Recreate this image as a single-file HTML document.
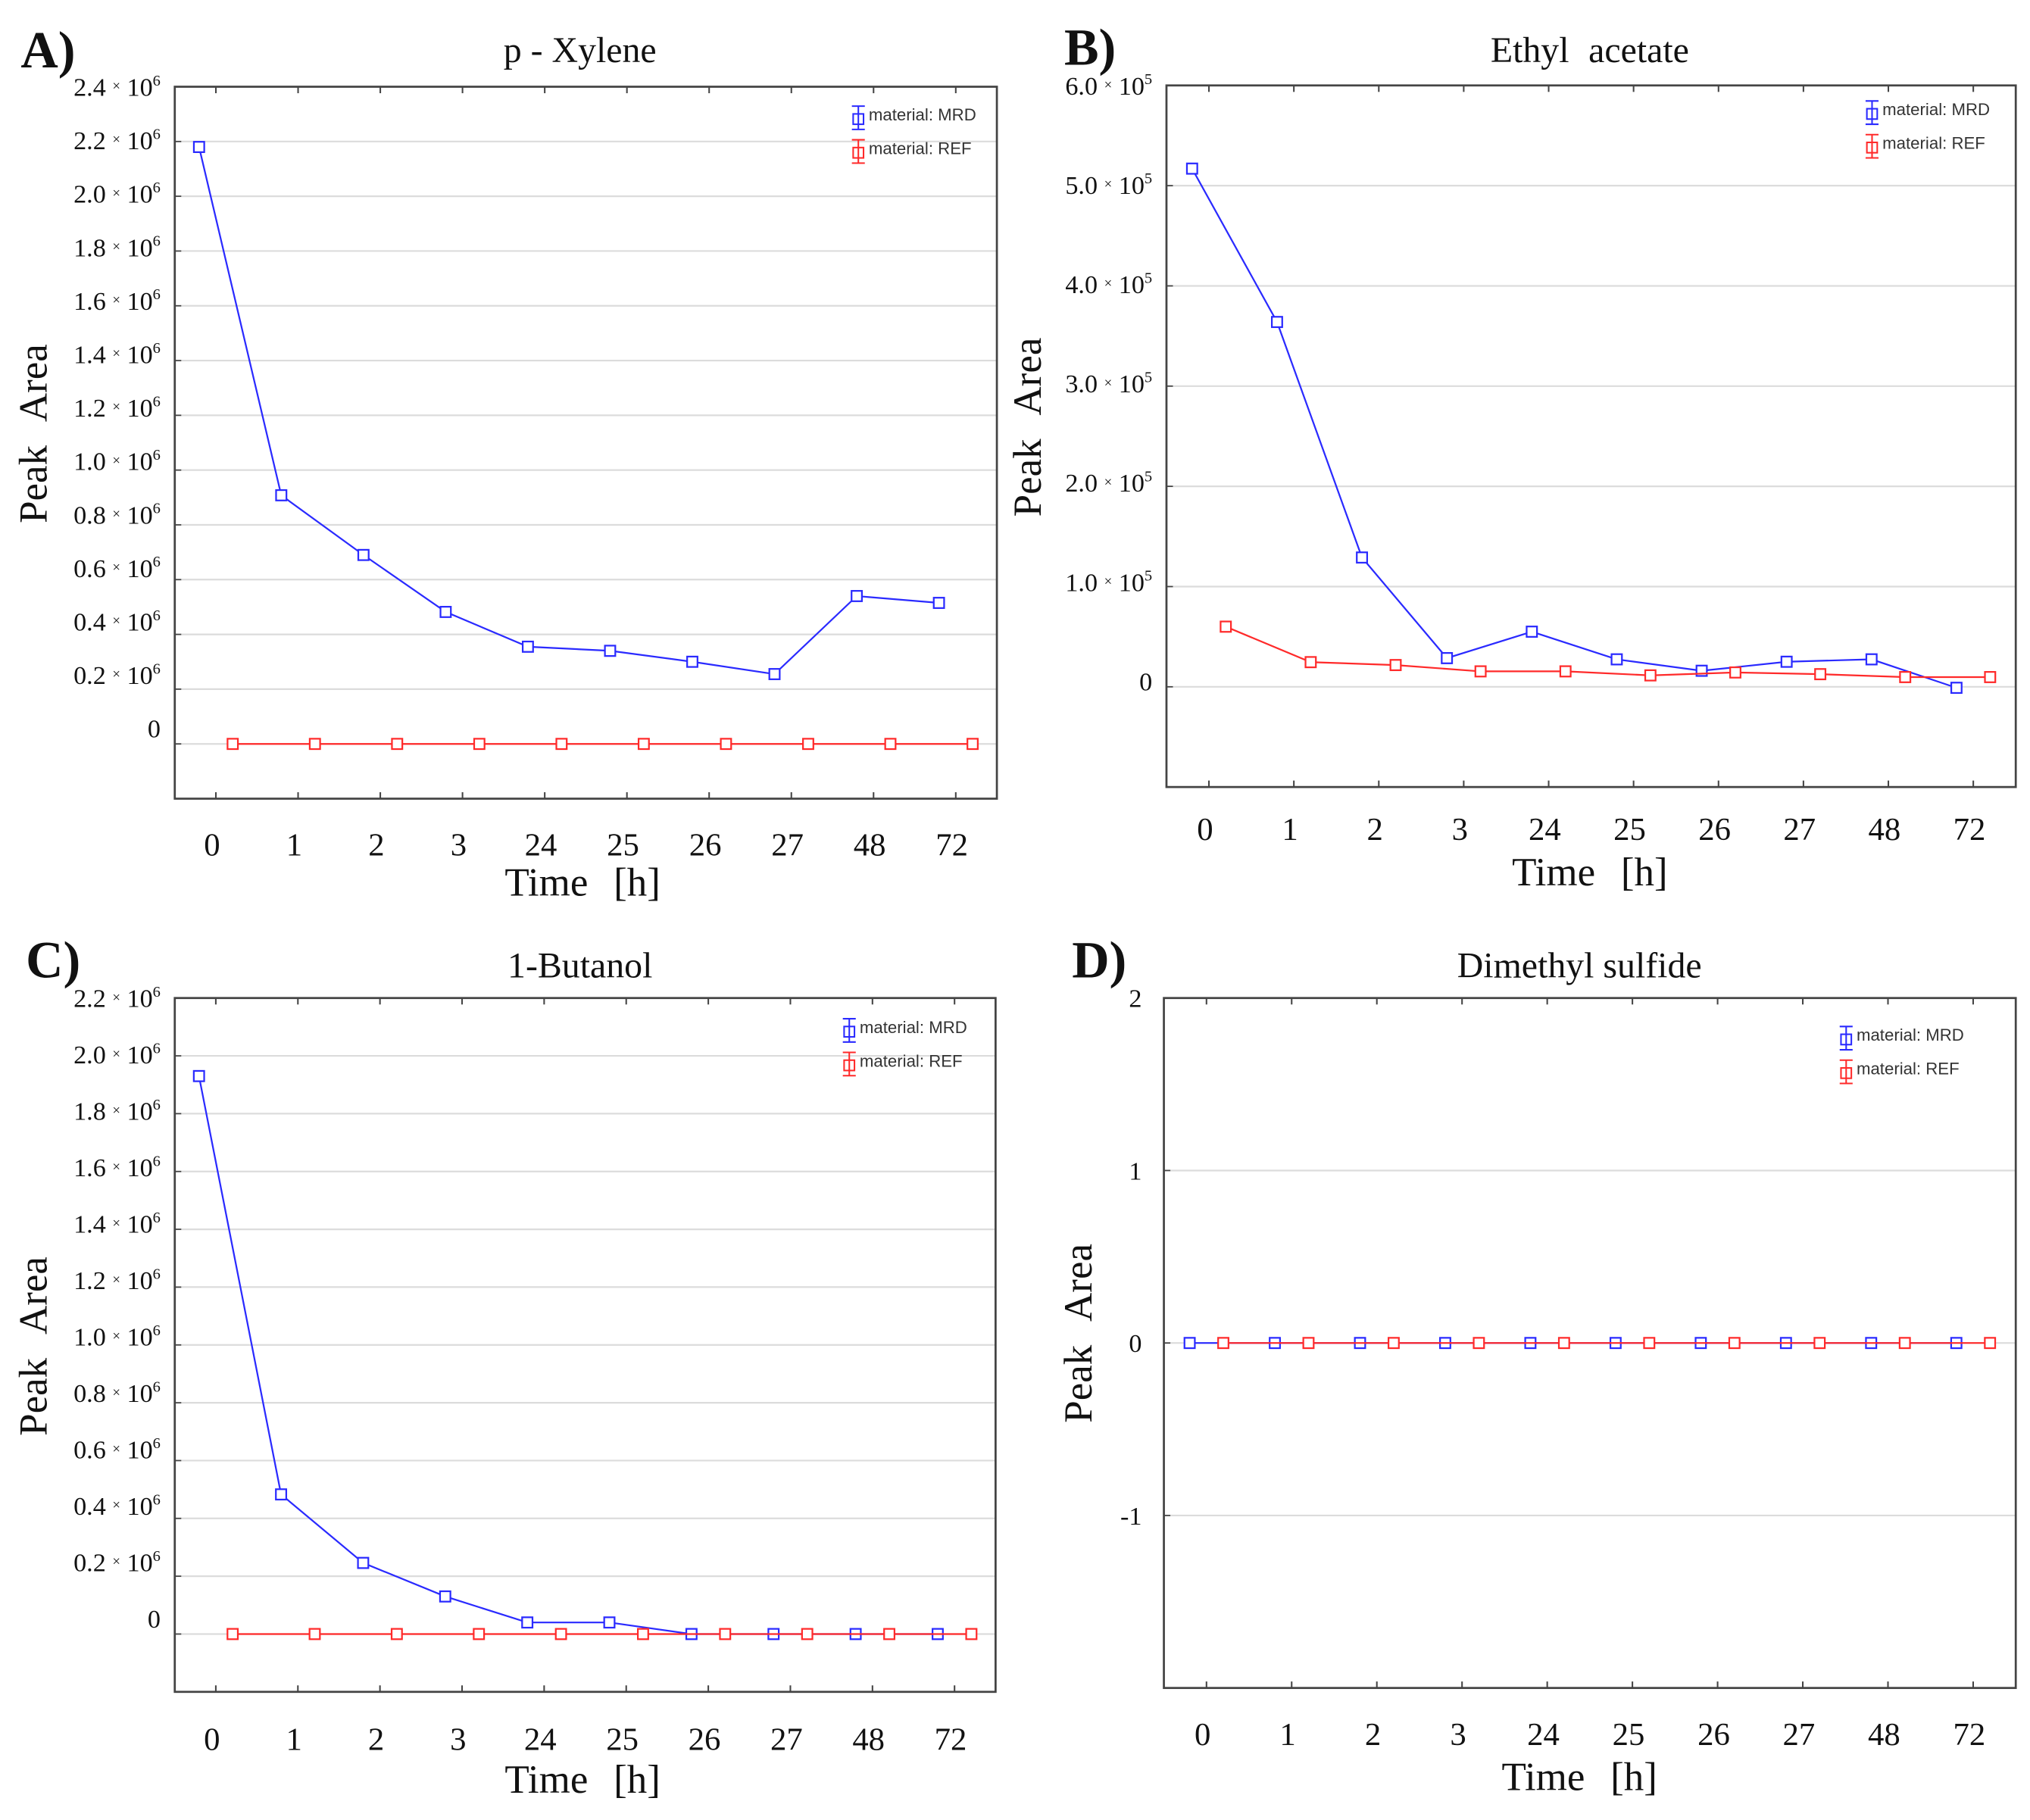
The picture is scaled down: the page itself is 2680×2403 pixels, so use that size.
<!DOCTYPE html>
<html><head><meta charset="utf-8"><style>
html,body{margin:0;padding:0;background:#fff}
svg{display:block}
text{font-family:"Liberation Serif",serif;fill:#111}
.leg{font-family:"Liberation Sans",sans-serif;font-size:13px;fill:#333}
</style></head><body>
<svg id="fig" width="2680" height="2403" viewBox="0 0 1568 1406" preserveAspectRatio="none" xmlns="http://www.w3.org/2000/svg"></svg>
<script>
const categories=["0","1","2","3","24","25","26","27","48","72"];
const aMRD=[2.18e6,0.908e6,0.69e6,0.482e6,0.355e6,0.34e6,0.30e6,0.255e6,0.54e6,0.515e6];
const aREF=[0,0,0,0,0,0,0,0,0,0];
const bMRD=[5.17e5,3.64e5,1.29e5,0.286e5,0.55e5,0.274e5,0.16e5,0.25e5,0.274e5,-0.01e5];
const bREF=[0.6e5,0.246e5,0.217e5,0.154e5,0.154e5,0.114e5,0.143e5,0.126e5,0.097e5,0.097e5];
const cMRD=[1.93e6,0.483e6,0.246e6,0.13e6,0.04e6,0.04e6,0,0,0,0];
const cREF=[0,0,0,0,0,0,0,0,0,0];
const dMRD=[0,0,0,0,0,0,0,0,0,0];
const dREF=[0,0,0,0,0,0,0,0,0,0];
const aTicks=[0,0.2,0.4,0.6,0.8,1.0,1.2,1.4,1.6,1.8,2.0,2.2,2.4];
const bTicks=[0,1,2,3,4,5,6];
const cTicks=[0,0.2,0.4,0.6,0.8,1.0,1.2,1.4,1.6,1.8,2.0,2.2];
const dTicks=[-1,0,1,2];

const NS="http://www.w3.org/2000/svg";
const svg=document.getElementById('fig');
function mk(tag,attrs,parent,txt){const e=document.createElementNS(NS,tag);for(const k in attrs)e.setAttribute(k,attrs[k]);if(txt!==undefined)e.textContent=txt;(parent||svg).appendChild(e);return e;}

function panel(p){
  const g=mk('g',{});
  
  
  const L=p.box[0],T=p.box[1],R=p.box[2],B=p.box[3];
  const y=v=>B-(v-p.ymin)/(p.ymax-p.ymin)*(B-T);
  const cw=(R-L)/categories.length;
  const xc=i=>L+cw*(i+0.5);
  p.ticks.forEach(t=>{
    const v=t*p.mult, yy=y(v);
    if(yy>T+1){const gl=mk('line',{x1:L,x2:R,y1:yy,y2:yy,stroke:'#dcdcdc','stroke-width':1.3},g);
      }
    const ly=yy+7-p.drift*(p.ymax-v)/(p.ymax-p.ymin);
    const tx=mk('text',{x:p.labX,y:ly,'text-anchor':'end','font-size':20},g);
    
    if(p.sci && t!==0){
      mk('tspan',{},tx,t.toFixed(1)+' ');
      mk('tspan',{'font-size':11,dy:-4},tx,'×');
      mk('tspan',{'font-size':20,dy:4},tx,' 10');
      mk('tspan',{'font-size':12,dy:-8},tx,p.exp);
    } else tx.textContent=String(t);
    mk('line',{x1:L,x2:L+5,y1:yy,y2:yy,stroke:'#444','stroke-width':1},g);
  });
  const fr=mk('rect',{x:L,y:T,width:R-L,height:B-T,fill:'none',stroke:'#444','stroke-width':1.6},g);
  
  categories.forEach((c,i)=>{
    mk('line',{x1:xc(i),x2:xc(i),y1:T,y2:T+5,stroke:'#444','stroke-width':1.2},g);
    mk('line',{x1:xc(i),x2:xc(i),y1:B,y2:B-5,stroke:'#444','stroke-width':1.2},g);
    const tl=mk('text',{x:xc(i)-3,y:p.xlabY,'text-anchor':'middle','font-size':25},g,c);
    
  });
  [[p.mrd,'#2a2aff',-13,'series-mrd'],[p.ref,'#ff2a2a',13,'series-ref']].forEach(([vals,col,off,nm])=>{
    const pts=vals.map((v,i)=>(xc(i)+off)+','+y(v)).join(' ');
    const pl=mk('polyline',{points:pts,fill:'none',stroke:col,'stroke-width':1.3},g);
    
    vals.forEach((v,i)=>{
      const m=mk('rect',{x:xc(i)+off-4,y:y(v)-4,width:8,height:8,fill:'#fff',stroke:col,'stroke-width':1.3},g);
      
    });
  });
  [['material: MRD','#2a2aff'],['material: REF','#ff2a2a']].forEach(([lab,col],k)=>{
    const lx=p.leg[0], ly=p.leg[1]+k*26;
    const lg=mk('g',{},g);
    
    mk('line',{x1:lx,x2:lx,y1:ly-9,y2:ly+9,stroke:col,'stroke-width':1.2},lg);
    mk('line',{x1:lx-5,x2:lx+5,y1:ly-9,y2:ly-9,stroke:col,'stroke-width':1.2},lg);
    mk('line',{x1:lx-5,x2:lx+5,y1:ly+9,y2:ly+9,stroke:col,'stroke-width':1.2},lg);
    mk('rect',{x:lx-4,y:ly-3,width:8,height:8,fill:'none',stroke:col,'stroke-width':1.2},lg);
    mk('text',{x:lx+8,y:ly+2,class:'leg'},lg,lab);
  });
  const pl=mk('text',{x:p.letter[0],y:p.letter[1],'font-size':40,'font-weight':'bold'},g,p.L);
  
  const ti=mk('text',{x:p.title[0],y:p.title[1],'text-anchor':'middle','font-size':28,'word-spacing':p.tws||0},g,p.name);
  
  const yt=mk('text',{x:0,y:0,'text-anchor':'middle','font-size':31,'word-spacing':12,transform:`translate(${p.ytl[0]},${p.ytl[1]}) rotate(-90)`},g,'Peak Area');
  
  const xt=mk('text',{x:p.xtl[0],y:p.xtl[1],'text-anchor':'middle','font-size':31,'word-spacing':12},g,'Time [h]');
  
}

panel({id:'panel-a-p-xylene',L:'A)',name:'p - Xylene',box:[135,67,770,617],ymin:-0.2e6,ymax:2.4e6,mult:1e6,ticks:aTicks,sci:true,exp:'6',drift:13,labX:124,mrd:aMRD,ref:aREF,xlabY:661,leg:[663,91],letter:[16,52],title:[448,48],ytl:[36,335],xtl:[450,692]});
panel({id:'panel-b-ethyl-acetate',L:'B)',name:'Ethyl acetate',tws:8,box:[901,66,1557,608],ymin:-1e5,ymax:6e5,mult:1e5,ticks:bTicks,sci:true,exp:'5',drift:5,labX:890,mrd:bMRD,ref:bREF,xlabY:649,leg:[1446,87],letter:[822,50],title:[1228,48],ytl:[804,330],xtl:[1228,684]});
panel({id:'panel-c-1-butanol',L:'C)',name:'1-Butanol',box:[135,771,769,1307],ymin:-0.2e6,ymax:2.2e6,mult:1e6,ticks:cTicks,sci:true,exp:'6',drift:13,labX:124,mrd:cMRD,ref:cREF,xlabY:1352,leg:[656,796],letter:[20,755],title:[448,755],ytl:[36,1040],xtl:[450,1385]});
panel({id:'panel-d-dimethyl-sulfide',L:'D)',name:'Dimethyl sulfide',box:[899,771,1557,1304],ymin:-2,ymax:2,mult:1,ticks:dTicks,sci:false,exp:'',drift:0,labX:882,mrd:dMRD,ref:dREF,xlabY:1348,leg:[1426,802],letter:[828,755],title:[1220,755],ytl:[843,1030],xtl:[1220,1383]});
</script>
</body></html>
